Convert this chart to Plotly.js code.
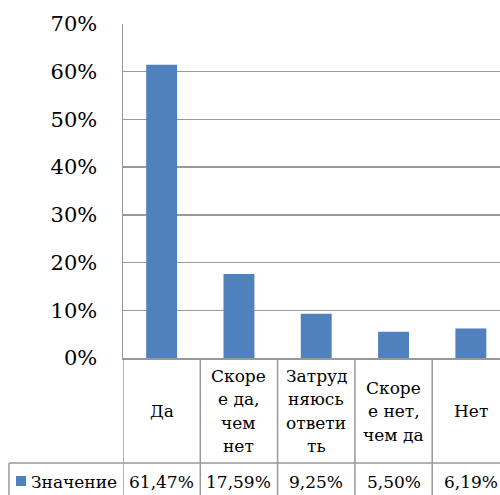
<!DOCTYPE html>
<html>
<head>
<meta charset="utf-8">
<script src="https://cdn.plot.ly/plotly-3.0.1.min.js"></script>
<style>
  html, body { margin: 0; padding: 0; background: #fff; }
  #chart { width: 500px; height: 495px; }
</style>
</head>
<body>
<div id="chart"></div>
<script>
// Column chart with an Excel-style data table under the axis.

const categories = ['Да', 'Скоре<br>е да,<br>чем<br>нет', 'Затруд<br>няюсь<br>ответи<br>ть', 'Скоре<br>е нет,<br>чем да', 'Нет'];
const values = [0.6147, 0.1759, 0.0925, 0.0550, 0.0619];
const valueLabels = ['61,47%', '17,59%', '9,25%', '5,50%', '6,19%'];
const seriesName = 'Значение';

const BAR = '#4F81BD';
const GRID = '#989898';
const FONT = { family: 'DejaVu Serif, serif', color: '#000' };
const TXT = 17;   // table text size

// plot box in pixels
const W = 500, H = 495;
const L = 123, T = 24, B = 137;
const plotW = W - L, plotH = H - T - B;
const px2y = (py) => (H - B - py) / plotH;   // page y -> paper y
const px2x = (pxv) => (pxv - L) / plotW;     // page x -> paper x

const CAT_W = 77.3;                           // one category column, px
const xMax = -0.5 + plotW / CAT_W;

const idx = categories.map((_, i) => i);

const traces = [{
  x: idx, y: values, type: 'bar', name: seriesName,
  marker: { color: BAR }, hoverinfo: 'skip', showlegend: false,
}];

const annotations = [];
const shapes = [];

// category labels (one annotation per wrapped line)
const LINE_H = 23.5, labelMid = 411;
categories.forEach((c, i) => {
  const lines = c.split('<br>');
  lines.forEach((t, j) => {
    annotations.push({
      x: i, xref: 'x', y: px2y(labelMid + (j - (lines.length - 1) / 2) * LINE_H), yref: 'paper',
      text: t, showarrow: false, xanchor: 'center', yanchor: 'middle',
      font: { ...FONT, size: TXT },
    });
  });
});

// value row
valueLabels.forEach((t, i) => {
  annotations.push({
    x: i, xref: 'x', y: px2y(482), yref: 'paper', text: t, showarrow: false,
    xanchor: 'center', yanchor: 'middle', font: { ...FONT, size: TXT },
  });
});

// legend key in the table
annotations.push({
  x: px2x(29), xref: 'paper', y: px2y(482), yref: 'paper', text: seriesName,
  showarrow: false, xanchor: 'left', yanchor: 'middle', font: { ...FONT, size: TXT },
});
shapes.push({
  type: 'rect', xref: 'paper', yref: 'paper',
  x0: px2x(16), x1: px2x(26), y0: px2y(476), y1: px2y(486),
  fillcolor: BAR, line: { width: 0 },
});

// table grid
const tl = { color: GRID, width: 1.5 };
for (let i = 0; i <= categories.length; i++) {
  shapes.push({ type: 'line', xref: 'x', yref: 'paper', x0: i - 0.5, x1: i - 0.5,
    y0: 0, y1: px2y(H + 5), line: tl });
}
shapes.push({ type: 'line', xref: 'paper', yref: 'paper', x0: px2x(9), x1: 1,
  y0: px2y(463), y1: px2y(463), line: tl });
shapes.push({ type: 'line', xref: 'paper', yref: 'paper', x0: px2x(9), x1: px2x(9),
  y0: px2y(463), y1: px2y(H + 5), line: tl });

const layout = {
  width: W, height: H,
  margin: { l: L, r: 0, t: T, b: B },
  paper_bgcolor: '#fff', plot_bgcolor: '#fff',
  bargap: 0.6,
  font: FONT,
  xaxis: {
    range: [-0.5, xMax], showticklabels: false, showgrid: false, zeroline: false,
    showline: true, linecolor: GRID, linewidth: 1.5, fixedrange: true,
  },
  yaxis: {
    range: [0, 0.7], dtick: 0.1, tickformat: '.0%',
    showgrid: true, gridcolor: GRID, gridwidth: 1.5,
    zeroline: false, showline: true, linecolor: GRID, linewidth: 1.5,
    ticks: '', ticklabelstandoff: 20,
    tickfont: { ...FONT, size: 21 }, fixedrange: true,
  },
  shapes, annotations,
  showlegend: false,
};

Plotly.newPlot('chart', traces, layout, { displayModeBar: false, staticPlot: true });
</script>
</body>
</html>
